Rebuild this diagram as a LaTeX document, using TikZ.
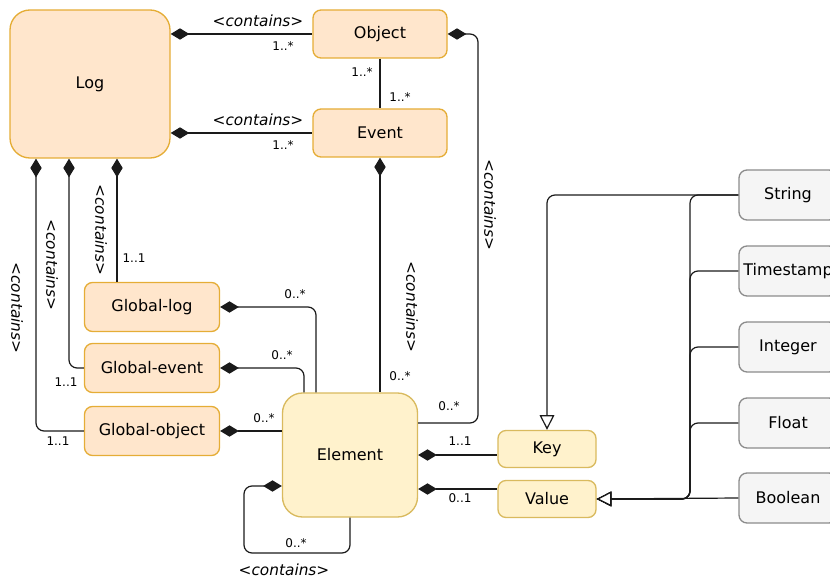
\documentclass[tikz,border=0pt]{standalone}
\usepackage{fontspec}
\setmainfont{DejaVu Sans}
\usetikzlibrary{arrows.meta}

\definecolor{clsfill}{HTML}{FFE6CC}
\definecolor{clsline}{HTML}{E5AD36}
\definecolor{elfill}{HTML}{FFF2CC}
\definecolor{elline}{HTML}{D9BA5E}
\definecolor{primfill}{HTML}{F5F5F5}
\definecolor{primline}{HTML}{8C8C8C}
\definecolor{edgecol}{HTML}{1A1A1A}

\tikzset{
  sz/.style 2 args={minimum width=#1*0.75pt, minimum height=#2*0.75pt},
  cls/.style={draw=clsline, fill=clsfill, line width=1pt, rounded corners=6pt,
    inner sep=0pt, font=\fontsize{12}{14}\selectfont},
  elem/.style={cls, draw=elline, fill=elfill},
  prim/.style={cls, draw=primline, fill=primfill},
  comp/.style={draw=edgecol, line width=0.9pt, rounded corners=6pt,
    {Diamond[length=14pt,width=8.5pt]}-},
  gen/.style={draw=edgecol, line width=0.9pt, rounded corners=6pt,
    -{Triangle[open,length=11pt,width=11pt,fill=white]}},
  role/.style={font=\fontsize{11.5}{13}\selectfont\itshape, inner sep=0pt},
  mult/.style={font=\fontsize{9}{11}\selectfont, inner sep=0pt}
}

\begin{document}
\begin{tikzpicture}[x=0.75pt,y=-0.75pt]
\useasboundingbox (0,0) rectangle (830,580);
\clip (0,0) rectangle (830,580);

% classes
\node[cls, sz={160}{148}, rounded corners=15pt] (log) at (90,84) {Log};
\node[cls, sz={134}{48}] (object) at (380,34) {Object};
\node[cls, sz={134}{48}] (event) at (380,133) {Event};
\node[cls, sz={135}{49}] (glog) at (152,307) {Global-log};
\node[cls, sz={135}{49}] (gevent) at (152,368) {Global-event};
\node[cls, sz={135}{49}] (gobject) at (152,431) {Global-object};
\node[elem, sz={135}{124}, rounded corners=15pt] (element) at (350,455) {Element};
\node[elem, sz={98}{37}] (key) at (547,449) {Key};
\node[elem, sz={98}{37}] (value) at (547,499) {Value};

% primitive types (cut at the right edge)
\node[prim, sz={98}{50}] (string) at (788,195) {String};
\node[prim, sz={98}{50}] (timestamp) at (788,271) {Timestamp};
\node[prim, sz={98}{50}] (integer) at (788,347) {Integer};
\node[prim, sz={98}{50}] (float) at (788,423) {Float};
\node[prim, sz={98}{50}] (boolean) at (788,498) {Boolean};

% log -- object / event
\draw[comp] (log.east |- object.west) -- (object.west);
\node[role] (r1) at (258,21) {<contains>};
\node[mult] (m1) at (283,46) {1..*};
\draw[comp] (log.east |- event.west) -- (event.west);
\node[role] (r2) at (258,120) {<contains>};
\node[mult] (m2) at (283,145) {1..*};
\draw[draw=edgecol, line width=0.9pt] (object) -- (event);
\node[mult] (m3) at (362,72) {1..*};
\node[mult] (m4) at (400,97) {1..*};

% object / event -- element
\draw[comp] (object.east) -| (478,423) -- (element.east |- 0,423);
\node[role, rotate=-90] (r3) at (490,205) {<contains>};
\node[mult] (m5) at (449,406) {0..*};
\draw[comp] (event.south) -- (element.north -| event.south);
\node[role, rotate=-90] (r4) at (412,307) {<contains>};
\node[mult] (m6) at (400,376) {0..*};

% log -- globals
\draw[comp] (log.south -| 117,0) -- (glog.north -| 117,0);
\node[role, rotate=-90] (r5) at (101,230) {<contains>};
\node[mult] (m7) at (134,258) {1..1};
\draw[comp] (log.south -| 69,0) |- (gevent.west);
\node[role, rotate=-90] (r6) at (52,265) {<contains>};
\node[mult] (m8) at (66,382) {1..1};
\draw[comp] (log.south -| 36,0) |- (gobject.west);
\node[role, rotate=-90] (r7) at (17,308) {<contains>};
\node[mult] (m9) at (58,441) {1..1};

% globals -- element
\draw[comp] (glog.east) -| (element.north -| 316,0);
\node[mult] (m10) at (295,294) {0..*};
\draw[comp] (gevent.east) -| (element.north -| 304,0);
\node[mult] (m11) at (282,355) {0..*};
\draw[comp] (gobject.east) -- (element.west |- gobject.east);
\node[mult] (m12) at (264,418) {0..*};

% element -- element
\draw[comp] (element.west |- 0,486) -- (244,486) |- (element.south |- 0,553) -- (element.south);
\node[mult] (m13) at (296,543) {0..*};
\node[role] (r8) at (284,570) {<contains>};

% element -- key / value
\draw[comp] (element.east |- 0,455) -- (key.west |- 0,455);
\node[mult] (m14) at (460,441) {1..1};
\draw[comp] (element.east |- 0,489) -- (value.west |- 0,489);
\node[mult] (m15) at (460,498) {0..1};

% generalisation
\draw[gen] (string.west) -| (key.north);
\draw[gen] (string.west) -- (690,195) |- (value.east);
\draw[gen] (timestamp.west) -- (690,271) |- (value.east);
\draw[gen] (integer.west) -- (690,347) |- (value.east);
\draw[gen] (float.west) -- (690,423) |- (value.east);
\draw[gen] (boolean.west) -- (value.east);
\end{tikzpicture}
\end{document}
